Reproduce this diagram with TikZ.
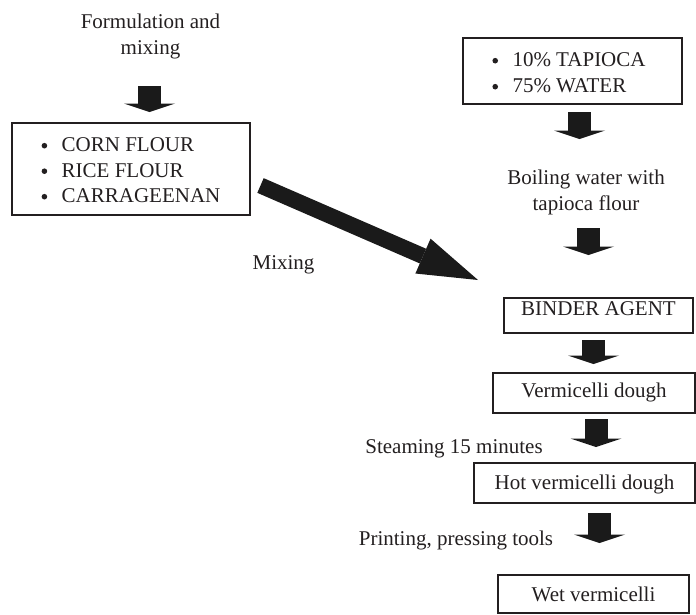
\documentclass[tikz,border=0pt]{standalone}
\usepackage{fontspec}
\setmainfont{Liberation Serif}
\usetikzlibrary{arrows.meta}
\definecolor{ink}{RGB}{35,31,32}
\definecolor{arrowfill}{RGB}{26,26,26}
\newcommand{\bdot}{\raisebox{3.2pt}{\tikz\fill[ink] (0,0) circle (2.8pt);}}
\begin{document}
\begin{tikzpicture}[x=1pt,y=-1pt,
  every node/.style={font=\fontsize{21}{26}\selectfont, text=ink, inner sep=0pt},
  box/.style={draw=ink, line width=1.1pt, anchor=base},
  lbl/.style={anchor=base},
  mlbl/.style={align=center, anchor=center},
  blockdown/.style={draw=arrowfill, line width=23pt, -{Triangle[length=8.5pt,width=51pt,line width=0pt]}},
  diagarrow/.style={draw=arrowfill, line width=16pt, -{Triangle[length=60pt,width=38pt,line width=0pt]}}
]
\useasboundingbox (0,0) rectangle (696,614);

% text labels
\node[mlbl] (form) at (150.5,36.5) {Formulation and\\mixing};
\node[mlbl] (boil) at (586,192) {Boiling water with\\tapioca flour};
\node[lbl] (mix) at (283.5,269) {Mixing};
\node[lbl] (steam) at (454,453) {Steaming 15 minutes};
\node[lbl] (print) at (456,545) {Printing, pressing tools};

% boxes
\node[box, minimum width=238pt, text height=28.7pt, text depth=63.3pt] (ingr) at (131,151.7)
  {\fontsize{21}{25.5}\selectfont\begin{tabular}[t]{@{}c@{\hspace{14.5pt}}l@{}}\bdot & CORN FLOUR\\ \bdot & RICE FLOUR\\ \bdot & CARRAGEENAN\end{tabular}};
\node[box, minimum width=219pt, text height=28.7pt, text depth=37.3pt] (tap) at (572.5,66.7)
  {\begin{tabular}[t]{@{}c@{\hspace{14.5pt}}l@{\hspace{7pt}}}\bdot & 10\% TAPIOCA\\ \bdot & 75\% WATER\end{tabular}};
\node[box, minimum width=189pt, text height=17pt, text depth=18pt] (binder) at (598.5,315) {BINDER AGENT};
\node[box, minimum width=202pt, text height=24pt, text depth=16pt] (verm) at (594,397) {Vermicelli dough};
\node[box, minimum width=221pt, text height=26pt, text depth=14pt] (hot) at (584.5,489) {Hot vermicelli dough};
\node[box, minimum width=191pt, text height=26.7pt, text depth=11.3pt] (wet) at (593.5,601.7) {Wet vermicelli};

% arrow end points
\coordinate (a1s) at (149.5,86);  \coordinate (a1e) at (149.5,112);
\coordinate (a2s) at (579.5,112); \coordinate (a2e) at (579.5,139);
\coordinate (a3s) at (588.5,228); \coordinate (a3e) at (588.5,255);
\coordinate (a4s) at (593.5,340); \coordinate (a4e) at (593.5,364);
\coordinate (a5s) at (596,419);   \coordinate (a5e) at (596,447);
\coordinate (a6s) at (599.5,513); \coordinate (a6e) at (599.5,543);
\coordinate (ds) at (260.5,185.5); \coordinate (de) at (478,280);

\draw[blockdown] (a1s) -- (a1e);
\draw[blockdown] (a2s) -- (a2e);
\draw[blockdown] (a3s) -- (a3e);
\draw[blockdown] (a4s) -- (a4e);
\draw[blockdown] (a5s) -- (a5e);
\draw[blockdown] (a6s) -- (a6e);
\draw[diagarrow] (ds) -- (de);
\end{tikzpicture}
\end{document}
